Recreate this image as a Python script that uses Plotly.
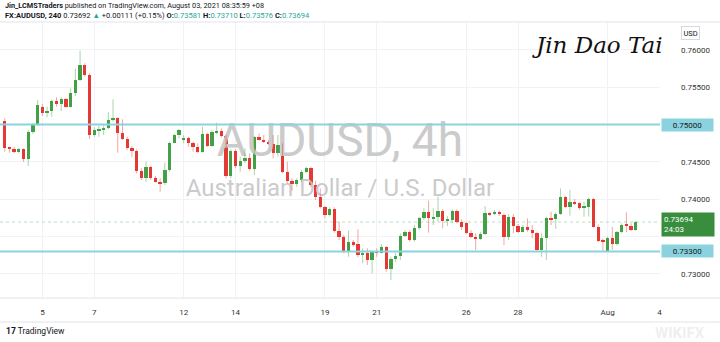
import plotly.graph_objects as go

# ---------------- data (AUDUSD 4h) ----------------
opens = [0.75048,0.74690,0.74675,0.74637,0.74669,0.74535,0.74897,0.75008,0.75240,0.75151,
         0.75178,0.75320,0.75272,0.75339,0.75240,0.75427,0.75598,0.75799,0.75669,0.74864,
         0.74927,0.74937,0.74954,0.75062,0.75084,0.74883,0.74811,0.74690,0.74650,0.74382,
         0.74280,0.74427,0.74280,0.74234,0.74213,0.74391,0.74757,0.74860,0.74803,0.74816,
         0.74757,0.74704,0.74637,0.74874,0.74713,0.74897,0.74918,0.74847,0.74311,0.74650,
         0.74445,0.74516,0.74548,0.74401,0.74838,0.74793,0.74771,0.74740,0.74615,0.74727,
         0.74369,0.74247,0.74204,0.74257,0.74369,0.74422,0.74191,0.74033,0.73891,0.73788,
         0.73865,0.73578,0.73489,0.73309,0.73422,0.73396,0.73252,0.73283,0.73185,0.73296,
         0.73283,0.73355,0.73060,0.73205,0.73238,0.73506,0.73564,0.73453,0.73610,0.73744,
         0.73832,0.73744,0.73757,0.73846,0.73712,0.73721,0.73846,0.73698,0.73677,0.73551,
         0.73497,0.73462,0.73534,0.73811,0.73798,0.73832,0.73788,0.73497,0.73761,0.73641,
         0.73564,0.73631,0.73587,0.73543,0.73319,0.73484,0.73752,0.73734,0.73798,0.74033,
         0.73900,0.73967,0.73945,0.73886,0.73900,0.74003,0.73631,0.73440,0.73305,0.73484,
         0.73396,0.73556,0.73654,0.73644,0.73581]
highs = [0.75084,0.74700,0.74704,0.74690,0.74682,0.74927,0.75025,0.75330,0.75275,0.75240,
         0.75339,0.75366,0.75366,0.75356,0.75486,0.75754,0.75990,0.75822,0.75687,0.74964,
         0.74981,0.74994,0.75169,0.75339,0.75098,0.75071,0.74838,0.74713,0.74669,0.74414,
         0.74502,0.74445,0.74311,0.74280,0.74489,0.74771,0.74874,0.74941,0.74860,0.74838,
         0.74771,0.74749,0.74972,0.74891,0.74927,0.75025,0.74950,0.74860,0.74669,0.74669,
         0.74570,0.74682,0.74615,0.74847,0.74883,0.74860,0.74793,0.74860,0.74860,0.74749,
         0.74502,0.74280,0.74280,0.74391,0.74436,0.74436,0.74247,0.74146,0.73909,0.73891,
         0.73891,0.73698,0.73520,0.73578,0.73453,0.73596,0.73342,0.73342,0.73319,0.73342,
         0.73399,0.73372,0.73229,0.73279,0.73543,0.73587,0.73587,0.73654,0.73766,0.73878,
         0.73980,0.73878,0.74033,0.73865,0.73775,0.73865,0.73865,0.73731,0.73698,0.73587,
         0.73543,0.73564,0.73909,0.73832,0.73855,0.73846,0.73811,0.73801,0.73801,0.73668,
         0.73654,0.73744,0.73654,0.73564,0.73543,0.73766,0.73832,0.73824,0.74146,0.74047,
         0.74123,0.74003,0.73959,0.73967,0.74020,0.74020,0.73664,0.73476,0.73497,0.73631,
         0.73574,0.73677,0.73824,0.73677,0.73710]
lows = [0.74637,0.74623,0.74615,0.74615,0.74502,0.74445,0.74874,0.74981,0.75115,0.75098,
        0.75106,0.75240,0.75182,0.75228,0.75230,0.75383,0.75584,0.75642,0.74807,0.74838,
        0.74838,0.74860,0.74937,0.75039,0.74623,0.74793,0.74660,0.74562,0.74347,0.74257,
        0.74234,0.74257,0.74221,0.74100,0.74191,0.74369,0.74749,0.74816,0.74749,0.74704,
        0.74637,0.74615,0.74623,0.74696,0.74704,0.74874,0.74830,0.74280,0.74280,0.74418,
        0.74369,0.74481,0.74382,0.74325,0.74784,0.74753,0.74727,0.74548,0.74570,0.74347,
        0.74213,0.74114,0.74167,0.74234,0.74347,0.74167,0.73989,0.73878,0.73744,0.73766,
        0.73551,0.73453,0.73275,0.73229,0.73363,0.73221,0.73141,0.73118,0.73007,0.73229,
        0.73275,0.73028,0.72917,0.73158,0.73185,0.73497,0.73430,0.73430,0.73587,0.73721,
        0.73551,0.73654,0.73698,0.73610,0.73641,0.73677,0.73677,0.73587,0.73534,0.73476,
        0.73319,0.73453,0.73520,0.73775,0.73788,0.73775,0.73386,0.73453,0.73547,0.73547,
        0.73556,0.73564,0.73476,0.73296,0.73229,0.73185,0.73654,0.73601,0.73788,0.73878,
        0.73779,0.73922,0.73855,0.73766,0.73766,0.73618,0.73422,0.73305,0.73296,0.73319,
        0.73377,0.73543,0.73556,0.73574,0.73576]
closes = [0.74690,0.74673,0.74637,0.74669,0.74535,0.74897,0.75008,0.75259,0.75151,0.75178,
          0.75320,0.75272,0.75339,0.75240,0.75427,0.75598,0.75799,0.75669,0.74864,0.74927,
          0.74941,0.74954,0.75062,0.75084,0.74883,0.74811,0.74690,0.74650,0.74382,0.74280,
          0.74427,0.74280,0.74234,0.74213,0.74391,0.74757,0.74860,0.74927,0.74816,0.74757,
          0.74704,0.74637,0.74874,0.74713,0.74897,0.74918,0.74847,0.74311,0.74650,0.74445,
          0.74516,0.74548,0.74401,0.74838,0.74793,0.74771,0.74740,0.74615,0.74727,0.74369,
          0.74247,0.74204,0.74257,0.74369,0.74422,0.74191,0.74033,0.73891,0.73788,0.73865,
          0.73578,0.73489,0.73309,0.73422,0.73396,0.73252,0.73283,0.73185,0.73296,0.73283,
          0.73355,0.73060,0.73205,0.73238,0.73506,0.73564,0.73453,0.73610,0.73744,0.73832,
          0.73744,0.73757,0.73846,0.73712,0.73721,0.73846,0.73698,0.73631,0.73551,0.73497,
          0.73462,0.73534,0.73811,0.73798,0.73832,0.73798,0.73497,0.73761,0.73641,0.73564,
          0.73631,0.73587,0.73543,0.73319,0.73484,0.73752,0.73734,0.73798,0.74033,0.73900,
          0.73967,0.73945,0.73886,0.73900,0.74003,0.73631,0.73440,0.73430,0.73484,0.73396,
          0.73556,0.73654,0.73644,0.73583,0.73694]

tick_bar_index = [8, 19, 38, 49, 68, 79, 98, 109, 128, 139]
tick_labels = ["5", "7", "12", "14", "19", "21", "26", "28", "Aug", "4"]

level_prices = [0.75000, 0.73300]
last_price = 0.73694
countdown = "24:03"
y_ticks = [0.730, 0.735, 0.740, 0.745, 0.750, 0.755, 0.760]

# ---------------- styling ----------------
UP = "#43a047"
DOWN = "#e53935"
UP_WICK = "rgba(67,160,71,0.45)"
DOWN_WICK = "rgba(229,57,53,0.45)"
LEVEL = "#8ad3de"
FONT = "Roboto"
MIN_BODY = 0.00014

n = len(opens)
idx = list(range(n))
x_range = [-1.0, 139.13]
y_range = [0.72676, 0.76375]

fig = go.Figure()

# watermark (drawn first so candles overlay it)
wx = x_range[0] + 0.515 * (x_range[1] - x_range[0])
fig.add_trace(go.Scatter(
    x=[wx, wx],
    y=[y_range[0] + 0.555 * (y_range[1] - y_range[0]),
       y_range[0] + 0.392 * (y_range[1] - y_range[0])],
    mode="text",
    text=["AUDUSD, 4h", "Australian Dollar / U.S. Dollar"],
    textfont=dict(family=FONT, size=[46, 24], color="#cbcbcb"),
    hoverinfo="skip", showlegend=False))

# wicks
for up in (True, False):
    wx_, wy_ = [], []
    for i in idx:
        if (closes[i] >= opens[i]) == up:
            wx_ += [i, i, None]
            wy_ += [lows[i], highs[i], None]
    fig.add_trace(go.Scatter(x=wx_, y=wy_, mode="lines",
                             line=dict(color=UP_WICK if up else DOWN_WICK, width=1),
                             hoverinfo="skip", showlegend=False))

# bodies
for up in (True, False):
    bx, bb, bh = [], [], []
    for i in idx:
        if (closes[i] >= opens[i]) == up:
            lo = min(opens[i], closes[i])
            h = max(abs(closes[i] - opens[i]), MIN_BODY)
            bx.append(i)
            bb.append(lo)
            bh.append(h)
    fig.add_trace(go.Bar(x=bx, y=bh, base=bb, width=0.7,
                         marker=dict(color=UP if up else DOWN, line=dict(width=0)),
                         hoverinfo="skip", showlegend=False))

shapes = []
for lv in level_prices:
    shapes.append(dict(type="line", xref="paper", yref="y", x0=0, x1=1, y0=lv, y1=lv,
                       line=dict(color=LEVEL, width=2)))
shapes.append(dict(type="line", xref="paper", yref="y", x0=0, x1=1, y0=last_price, y1=last_price,
                   line=dict(color="rgba(67,160,71,0.35)", width=1, dash="dot")))
for py in (1.0, 0.0, -0.087):
    shapes.append(dict(type="line", xref="paper", yref="paper", x0=0, x1=1.0909, y0=py, y1=py,
                       line=dict(color="#e0e3eb", width=1)))

annotations = []
for lv in level_prices:
    annotations.append(dict(xref="paper", yref="y", x=1, y=lv, xanchor="left", yanchor="middle",
                            xshift=1, text=f"{lv:.5f}", showarrow=False, bgcolor=LEVEL,
                            font=dict(family=FONT, size=8, color="#131722"),
                            width=48, borderpad=1.5))
annotations.append(dict(xref="paper", yref="y", x=1, y=last_price, xanchor="left", yanchor="top",
                        xshift=1, yshift=10, text=f"{last_price:.5f}<br>{countdown}", showarrow=False,
                        bgcolor="#388e3c", align="left",
                        font=dict(family=FONT, size=8, color="#ffffff"),
                        width=48, borderpad=2))
annotations.append(dict(xref="paper", yref="paper", x=1.0455, y=0.96, xanchor="center",
                        yanchor="middle", text="USD", showarrow=False,
                        font=dict(family=FONT, size=7.5, color="#131722"),
                        bordercolor="#d6d9e0", borderwidth=1, borderpad=1.5, bgcolor="#ffffff"))
annotations.append(dict(xref="paper", yref="paper", x=0.004, y=1.058, xanchor="left", yanchor="middle",
                        showarrow=False,
                        text="<b>Jin_LCMSTraders</b> published on TradingView.com, August 03, 2021 08:35:59 +08",
                        font=dict(family=FONT, size=7.3, color="#131722")))
teal = "#26a69a"
hdr2 = ("<b>FX:AUDUSD, 240</b> 0.73692 <span style='color:%s'>▲</span> +0.00111 (+0.15%%) "
        "<b>O:</b><span style='color:%s'>0.73581</span> <b>H:</b><span style='color:%s'>0.73710</span> "
        "<b>L:</b><span style='color:%s'>0.73576</span> <b>C:</b><span style='color:%s'>0.73694</span>"
        % (teal, teal, teal, teal, teal))
annotations.append(dict(xref="paper", yref="paper", x=0.004, y=1.022, xanchor="left", yanchor="middle",
                        showarrow=False, text=hdr2,
                        font=dict(family=FONT, size=7.5, color="#131722")))
annotations.append(dict(xref="paper", yref="paper", x=0.905, y=0.915, xanchor="center", yanchor="middle",
                        showarrow=False, text="<i>Jin Dao Tai</i>",
                        font=dict(family="DejaVu Serif", size=23, color="#111111")))
annotations.append(dict(xref="paper", yref="paper", x=0.006, y=-0.118, xanchor="left", yanchor="middle",
                        showarrow=False, text="<b>17</b> TradingView",
                        font=dict(family=FONT, size=8.5, color="#131722")))
annotations.append(dict(xref="paper", yref="paper", x=1.03, y=-0.125, xanchor="center", yanchor="middle",
                        showarrow=False, text="<b>WIKIFX</b>",
                        font=dict(family=FONT, size=15, color="rgba(200,200,200,0.3)")))

hidden = {0.750, 0.735}
fig.update_layout(
    width=720, height=342,
    margin=dict(l=0, r=60, t=22, b=44),
    paper_bgcolor="#ffffff", plot_bgcolor="#ffffff",
    barmode="overlay", bargap=0,
    showlegend=False,
    shapes=shapes, annotations=annotations,
    font=dict(family=FONT, size=8, color="#131722"),
)
fig.update_xaxes(range=x_range, tickmode="array", tickvals=tick_bar_index, ticktext=tick_labels,
                 showgrid=True, gridcolor="#f0f2f5", gridwidth=1, zeroline=False, showline=False,
                 ticks="", ticklabelstandoff=8, tickfont=dict(family=FONT, size=8, color="#333333"),
                 fixedrange=True)
fig.update_yaxes(range=y_range, side="right", tickmode="array", tickvals=y_ticks,
                 ticktext=["" if round(v, 3) in hidden else f"{v:.5f}" for v in y_ticks],
                 showgrid=True, gridcolor="#f0f2f5", gridwidth=1, zeroline=False, showline=False,
                 ticks="", ticklabelstandoff=20, tickfont=dict(family=FONT, size=8, color="#333333"),
                 fixedrange=True)

fig.write_html("out.html")
